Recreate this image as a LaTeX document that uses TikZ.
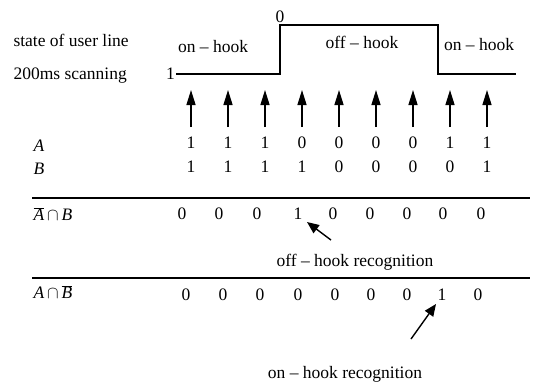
\documentclass[tikz,border=0pt]{standalone}
\usepackage{fontspec}
\setmainfont{Liberation Serif}
\usetikzlibrary{arrows.meta}

\begin{document}
\begin{tikzpicture}[x=1pt, y=-1pt, font=\fontsize{17.5}{20}\selectfont,
  scan/.style={-{Triangle[length=15pt, width=9pt]}, line width=1.4pt},
  rec/.style={-{Triangle[length=12pt, width=10pt]}, line width=1.4pt},
  rule/.style={line width=1.8pt}]
  \useasboundingbox (0, 0) rectangle (534, 384);
  \coordinate (w0) at (176, 74);
  \coordinate (w1) at (280, 74);
  \coordinate (w2) at (280, 25);
  \coordinate (w3) at (438, 25);
  \coordinate (w4) at (438, 74);
  \coordinate (w5) at (516, 74);
  \node[anchor=west] (state) at (10, 40) {state of user line};
  \node[anchor=west] (scanning) at (10, 76) {200ms scanning};
  \node[anchor=east, inner sep=1pt] (one) at (w0) {1};
  \node[above, inner sep=2pt] (zero) at (w2) {0};
  \draw[line width=1.2pt] (w0) -- (w1) -- (w2) -- (w3) -- (w4) -- (w5);
  \node (onl) at (213, 47) {on -- hook};
  \node (off) at (362, 42) {off -- hook};
  \node (onr) at (479, 45) {on -- hook};
  \foreach \i/\x in {1/191, 2/228, 3/265, 4/302, 5/339, 6/376, 7/413, 8/450, 9/487} {
    \coordinate (b\i) at (\x, 127);
    \coordinate (t\i) at (\x, 90);
    \draw[scan] (b\i) -- (t\i);
  }
  \node[anchor=west] (A) at (30, 146) {\itshape A};
  \node[anchor=west] (B) at (30, 169) {\itshape B};
  \foreach \x/\v in {191/1, 228/1, 265/1, 302/0, 339/0, 376/0, 413/0, 450/1, 487/1}
    \node (a\x) at (\x, 143) {\v};
  \foreach \x/\v in {191/1, 228/1, 265/1, 302/1, 339/0, 376/0, 413/0, 450/0, 487/1}
    \node (b\x) at (\x, 167) {\v};
  \coordinate (l1a) at (32, 198);
  \coordinate (l1b) at (530, 198);
  \draw[rule] (l1a) -- (l1b);
  \node[anchor=west] (nab) at (30, 214) {$\overline{\mbox{\itshape A}}\,{\cap}\,\mbox{\itshape B}$};
  \foreach \x/\v in {182/0, 219/0, 257/0, 298/1, 333/0, 370/0, 407/0, 443/0, 481/0}
    \node (c\x) at (\x, 214) {\v};
  \coordinate (offtail) at (331, 240);
  \coordinate (offtip) at (307, 222);
  \draw[rec] (offtail) -- (offtip);
  \node (offrec) at (355, 262) {off -- hook recognition};
  \coordinate (l2a) at (32, 278);
  \coordinate (l2b) at (530, 278);
  \draw[rule] (l2a) -- (l2b);
  \node[anchor=west] (anb) at (30, 292) {$\mbox{\itshape A}\,{\cap}\,\overline{\mbox{\itshape B}}$};
  \foreach \x/\v in {186/0, 223/0, 260/0, 298/0, 335/0, 371/0, 407/0, 442/1, 478/0}
    \node (d\x) at (\x, 295) {\v};
  \coordinate (ontail) at (411, 339);
  \coordinate (ontip) at (436, 304);
  \draw[rec] (ontail) -- (ontip);
  \node (onrec) at (345, 374) {on -- hook recognition};
\end{tikzpicture}
\end{document}
